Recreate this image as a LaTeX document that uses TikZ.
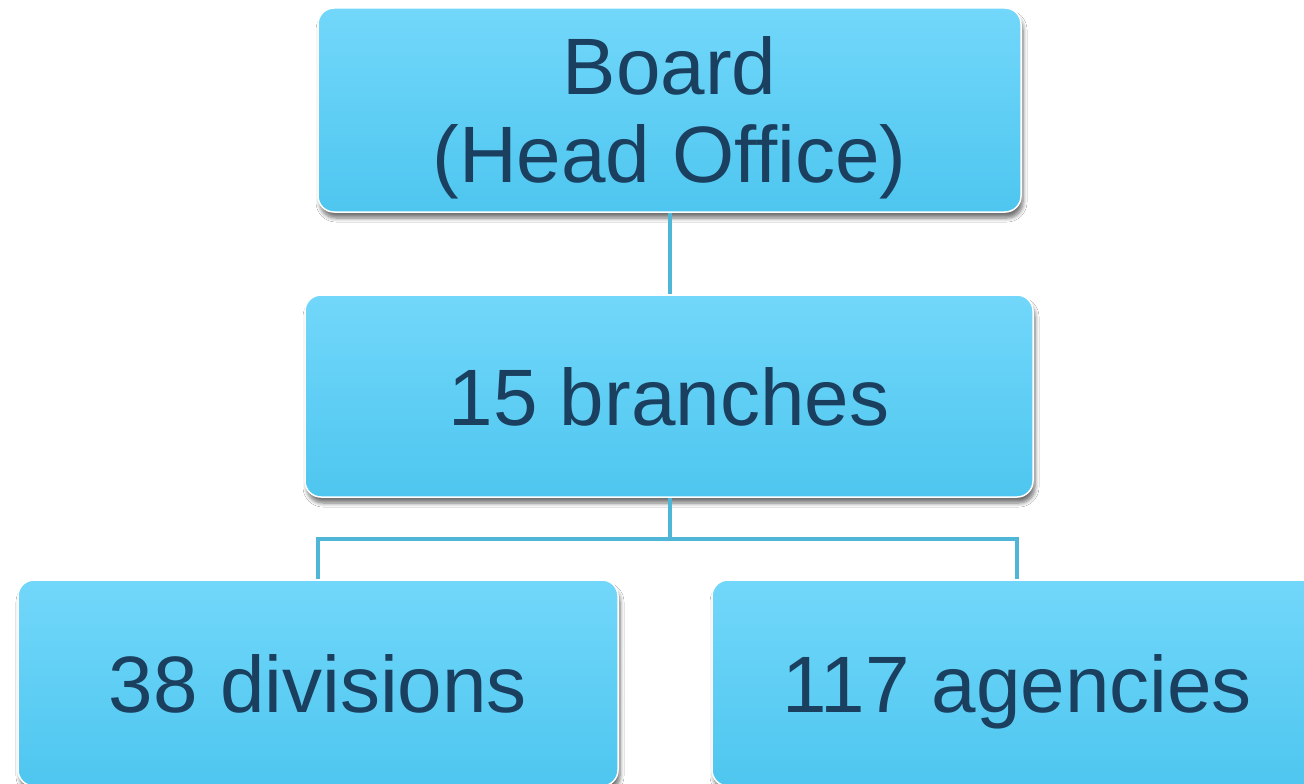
\documentclass[tikz,border=0pt]{standalone}
\usepackage{fontspec}
\setmainfont{Liberation Sans}
\usetikzlibrary{shadows.blur}
\definecolor{boxtop}{HTML}{72D7FA}
\definecolor{boxbot}{HTML}{4EC6EF}
\definecolor{boxtext}{HTML}{1B3F5E}
\definecolor{linkcol}{HTML}{4FB6D8}
\tikzset{
  orgbox/.style={rounded corners=16pt, top color=boxtop, bottom color=boxbot,
    draw=white, line width=1.5pt, text=boxtext, align=center, inner sep=0pt,
    font=\fontsize{80}{88}\selectfont,
    blur shadow={shadow xshift=2pt, shadow yshift=-6pt, shadow blur steps=6,
      shadow opacity=55, shadow blur radius=4pt}},
  % one-line labels share the same baseline, descenders or not
  oneline/.style={text height=58pt, text depth=0pt},
  link/.style={draw=linkcol, line width=4pt}
}
\begin{document}
\begin{tikzpicture}[x=1pt,y=-1pt]
  \path[use as bounding box, clip] (0,0) rectangle (1304,784);
  \fill[white] (0,0) rectangle (1304,784);

  \coordinate (jt) at (669.5,539);
  \coordinate (jl) at (318,539);
  \coordinate (jr) at (1017,539);

  \node[orgbox, minimum width=703pt, minimum height=204pt] (board) at (669.5,110)
    {\rule{0pt}{73pt}Board\\(Head Office)};
  \node[orgbox, oneline, minimum width=728pt, minimum height=202pt] (branches) at (669,396)
    {15 branches};
  \node[orgbox, oneline, minimum width=600pt, minimum height=206pt] (divisions) at (318,683)
    {38 divisions};
  \node[orgbox, oneline, minimum width=610pt, minimum height=206pt] (agencies) at (1017,683)
    {117 agencies};

  \draw[link] (board.south -| jt) -- (branches.north -| jt);
  \draw[link] (branches.south -| jt) -- (jt);
  \draw[link, line cap=rect] (jl) -- (jr);
  \draw[link] (jl) -- (divisions.north);
  \draw[link] (jr) -- (agencies.north);
\end{tikzpicture}
\end{document}
